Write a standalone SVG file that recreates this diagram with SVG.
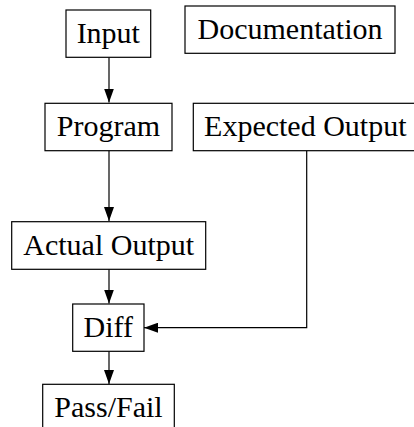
<svg xmlns="http://www.w3.org/2000/svg" width="414" height="427" viewBox="0 0 414 427">
  <style>
    .box { fill: #fff; stroke: #000; stroke-width: 1.2; }
    .lbl { font-family: "Liberation Serif", "Times New Roman", serif; font-size: 30px; fill: #000; text-anchor: middle; }
    .edge { fill: none; stroke: #000; stroke-width: 1.2; }
  </style>
  <defs>
    <marker id="arrow" markerWidth="14" markerHeight="10" refX="14" refY="5" orient="auto" markerUnits="userSpaceOnUse">
      <path d="M0,0 L14,5 L0,10 Z" fill="#000"/>
    </marker>
  </defs>
  <rect width="414" height="427" fill="#fff"/>

  <g id="connectors">
    <path class="edge" d="M109,57.5 V102.5" marker-end="url(#arrow)"/>
    <path class="edge" d="M109,150.7 V221" marker-end="url(#arrow)"/>
    <path class="edge" d="M109,269.3 V303.5" marker-end="url(#arrow)"/>
    <path class="edge" d="M306.7,150.7 V327.7 H144" marker-end="url(#arrow)"/>
    <path class="edge" d="M109,351.3 V384" marker-end="url(#arrow)"/>
  </g>

  <g id="input">
    <rect class="box" x="66" y="10" width="84.7" height="47.3"/>
    <text class="lbl" x="108.3" y="42.5">Input</text>
  </g>
  <g id="documentation">
    <rect class="box" x="185" y="6" width="210" height="47.3"/>
    <text class="lbl" x="290" y="39">Documentation</text>
  </g>
  <g id="program">
    <rect class="box" x="45" y="103.3" width="127" height="47.4"/>
    <text class="lbl" x="108.5" y="136">Program</text>
  </g>
  <g id="expected-output">
    <rect class="box" x="193.3" y="103.3" width="224" height="47.4"/>
    <text class="lbl" x="305.3" y="136">Expected Output</text>
  </g>
  <g id="actual-output">
    <rect class="box" x="11.7" y="221.7" width="194" height="47.6"/>
    <text class="lbl" x="108.7" y="254.5">Actual Output</text>
  </g>
  <g id="diff">
    <rect class="box" x="72.7" y="304" width="71.3" height="47.3"/>
    <text class="lbl" x="108.3" y="336.5">Diff</text>
  </g>
  <g id="pass-fail">
    <rect class="box" x="42.7" y="384.3" width="131.6" height="50"/>
    <text class="lbl" x="108.5" y="417">Pass/Fail</text>
  </g>
</svg>
